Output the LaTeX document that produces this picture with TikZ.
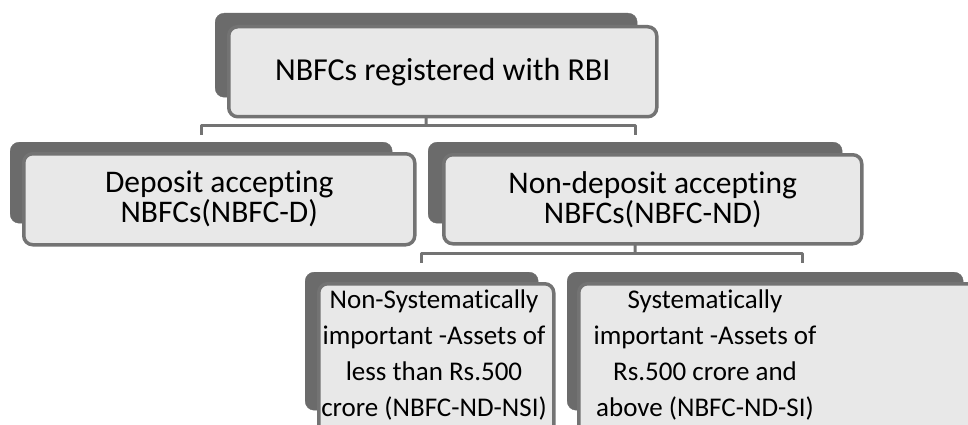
\documentclass[tikz,border=0pt]{standalone}
\usepackage{fontspec}
\setmainfont{Carlito}[Ligatures=NoCommon]
\definecolor{cardgray}{gray}{0.42}
\definecolor{edgegray}{gray}{0.45}
\definecolor{boxfill}{gray}{0.91}
\begin{document}
\begin{tikzpicture}[line join=round,x=1pt,y=-1pt,
	backcard/.style={fill=cardgray,draw=cardgray,rounded corners=9pt,anchor=north west,inner sep=0pt},
	frontbox/.style={fill=boxfill,draw=edgegray,line width=3.5pt,rounded corners=9pt,anchor=north west,inner sep=0pt,align=center},
	link/.style={draw=edgegray,line width=3pt},
	toptext/.style={font=\fontsize{32}{34}\selectfont},
	midtext/.style={font=\fontsize{31.5}{30}\selectfont},
	lowtext/.style={font=\fontsize{27}{36}\selectfont}]
		\useasboundingbox (0,0) rectangle (968,425);
		\clip (0,0) rectangle (968,425);
		% back cards
		\node[backcard,minimum width=422,minimum height=84] (rbiback) at (215,13) {};
		\node[backcard,minimum width=382,minimum height=81] (depback) at (10,142) {};
		\node[backcard,minimum width=414,minimum height=81] (ndback) at (428,142) {};
		\node[backcard,minimum width=233,minimum height=138] (nsiback) at (305,272) {};
		\node[backcard,minimum width=396,minimum height=138] (siback) at (567,272) {};
		% connectors
		\coordinate (rbifork) at (426,125);
		\coordinate (ndfork) at (635,253);
		\draw[link] (rbiback.south) -- (rbifork);
		\draw[link,shorten >=7pt] (rbifork) -| (depback.north);
		\draw[link,shorten >=7pt] (rbifork) -| (ndback.north);
		\draw[link] (ndback.south) -- (ndfork);
		\draw[link,shorten >=9pt] (ndfork) -| (nsiback.north);
		\draw[link,shorten >=9pt] (ndfork) -| ([xshift=37pt]siback.north);
		% front boxes
		\node[frontbox,toptext,minimum width=428,minimum height=90] (rbi) at (227,25) {NBFCs registered with RBI};
		\node[frontbox,midtext,minimum width=391,minimum height=91] (dep) at (22,152) {Deposit accepting\\NBFCs(NBFC-D)};
		\node[frontbox,midtext,minimum width=418,minimum height=89] (nd) at (442,153) {Non-deposit accepting\\NBFCs(NBFC-ND)};
		\node[frontbox,minimum width=235,minimum height=153] (nsi) at (317,282) {};
		\node[lowtext,align=center] (nsitext) at (434,355) {Non-Systematically\\important -Assets of\\less than Rs.500\\crore (NBFC-ND-NSI)};
		\node[frontbox,minimum width=440,minimum height=153] (si) at (577,282) {};
		\node[lowtext,align=center] (sitext) at (705,355) {Systematically\\important -Assets of\\Rs.500 crore and\\above (NBFC-ND-SI)};
	\end{tikzpicture}
\end{document}
